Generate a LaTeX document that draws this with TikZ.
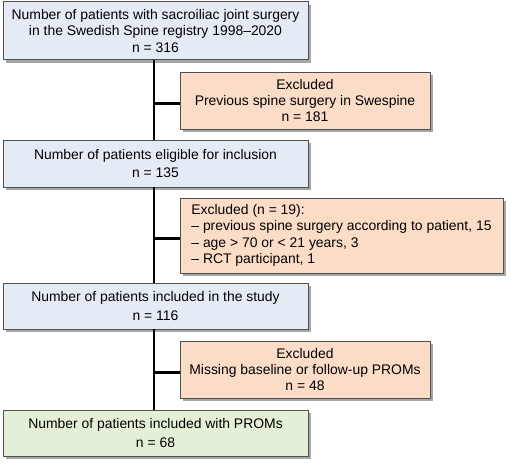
\documentclass[tikz,border=0pt]{standalone}
\usepackage{fontspec}
\setmainfont{Liberation Sans}
\usetikzlibrary{shadows}

\definecolor{boxblue}{HTML}{E4EBF5}
\definecolor{boxorange}{HTML}{FBDCC6}
\definecolor{boxgreen}{HTML}{E3EFD6}
\definecolor{boxline}{HTML}{505050}

\begin{document}
\begin{tikzpicture}[
  font=\fontsize{9.9}{11.6}\selectfont,
  flowbox/.style={draw=boxline, line width=0.7pt, align=center, inner sep=0pt,
    drop shadow={shadow xshift=2pt, shadow yshift=-2pt, opacity=0.35, fill=black}},
  mainbox/.style={flowbox, fill=boxblue, minimum width=7.625cm},
  exclbox/.style={flowbox, fill=boxorange},
  trunk/.style={line width=1.8pt, black}
]

\useasboundingbox (0,0) rectangle (12.875,11.725);

\node[mainbox, minimum height=1.45cm] (p1) at (3.8875,10.95) {Number of patients with sacroiliac joint surgery\\in the Swedish Spine registry 1998–2020\\n = 316};

\node[exclbox, minimum width=6.25cm, minimum height=1.425cm] (e1) at (7.625,9.2125) {Excluded\\Previous spine surgery in Swespine\\n = 181};

\node[mainbox, minimum height=1.175cm, font=\fontsize{9.9}{13}\selectfont] (p2) at (3.8875,7.6375) {Number of patients eligible for inclusion\\n = 135};

\node[exclbox, minimum width=8.075cm, minimum height=1.875cm, align=left] (e2) at (8.5375,5.8375) {Excluded (n = 19):\\– previous spine surgery according to patient, 15\\– age > 70 or < 21 years, 3\\– RCT participant, 1};

\node[mainbox, minimum height=1.15cm, font=\fontsize{9.9}{13}\selectfont] (p3) at (3.8875,4.075) {Number of patients included in the study\\n = 116};

\node[exclbox, minimum width=6.25cm, minimum height=1.425cm] (e3) at (7.625,2.4875) {Excluded\\Missing baseline or follow-up PROMs\\n = 48};

\node[mainbox, fill=boxgreen, minimum height=1.15cm, font=\fontsize{9.9}{13}\selectfont] (p4) at (3.8875,0.9) {Number of patients included with PROMs\\n = 68};

\draw[trunk] ([xshift=-1pt]p1.south) -- ([xshift=-1pt]p2.north);
\draw[trunk] ([xshift=-1pt]p2.south) -- ([xshift=-1pt]p3.north);
\draw[trunk] ([xshift=-1pt]p3.south) -- ([xshift=-1pt]p4.north);

\draw[trunk] ([yshift=-2pt]e1.west) -- ([xshift=-1pt,yshift=-2pt]e1.west -| p1.south);
\draw[trunk] ([yshift=-2pt]e2.west) -- ([xshift=-1pt,yshift=-2pt]e2.west -| p2.south);
\draw[trunk] ([yshift=-2pt]e3.west) -- ([xshift=-1pt,yshift=-2pt]e3.west -| p3.south);

\end{tikzpicture}
\end{document}
